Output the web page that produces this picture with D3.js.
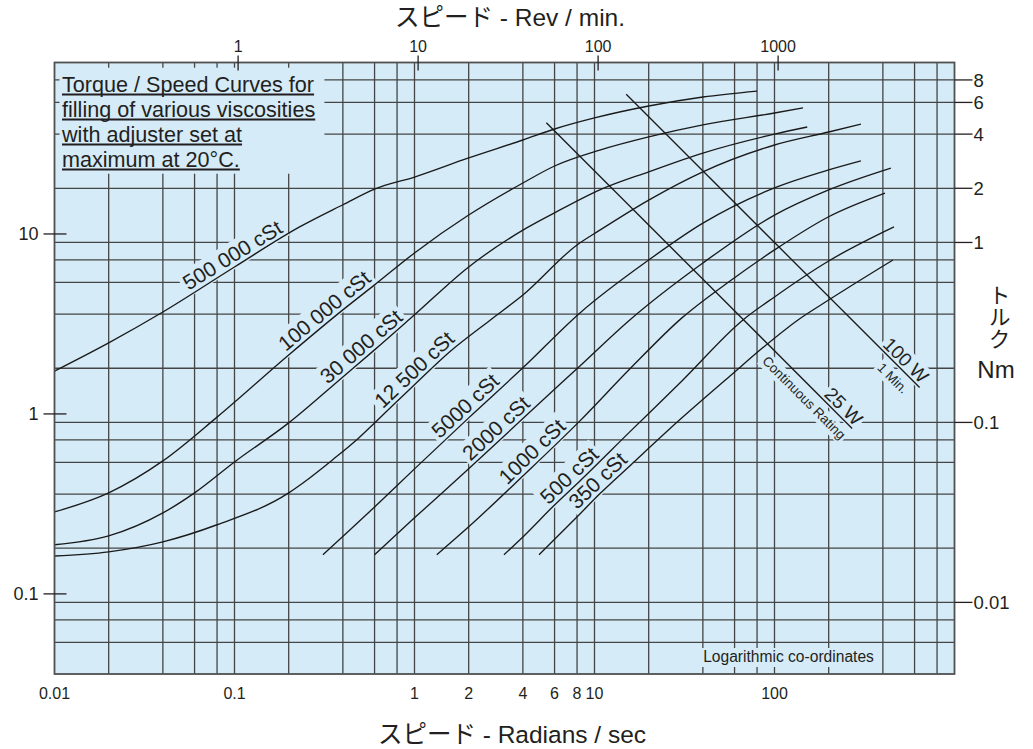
<!DOCTYPE html>
<html lang="ja">
<head>
<meta charset="utf-8">
<title>Torque / Speed Curves</title>
<script src="https://d3js.org/d3.v7.min.js"></script>
<style>
  body { margin: 0; background: #fff; }
  svg text { font-family: "Liberation Sans", Arial, "Noto Sans CJK JP", sans-serif; fill: #231f20; }
</style>
</head>
<body>
<script>
// consts
const w = 1033, h = 749;
const plot = {left: 54.5, right: 954.5, top: 62.5, bottom: 674};
const paper = "#d5ebf8";
const ink = "#231f20";
const leftPerNm = 8.97;   // left scale unit vs Nm

// tick labels
const radTicks = [0.01, 0.1, 1, 2, 4, 6, 8, 10, 100];
const rpmTicks = [1, 10, 100, 1000];
const leftTicks = [10, 1, 0.1];
const nmTicks = [8, 6, 4, 2, 1, 0.1, 0.01];

// grid
const gridRad = [0.02, 0.04, 0.06, 0.08, 0.1, 0.2, 0.4, 0.6, 0.8, 1, 2, 4, 6, 8, 10,
                 20, 40, 60, 80, 100, 200, 400, 600, 800];
const gridNm = [8, 6, 4, 2, 1, 0.8, 0.6, 0.4, 0.2, 0.1, 0.08, 0.06, 0.04, 0.02, 0.01, 0.008, 0.006];

// curves: [rad/s, Nm]
const cst500000 = [[0.01,0.193],[0.02,0.277],[0.04,0.411],[0.1,0.731],[0.23,1.22],[0.4,1.62],[0.6,1.98],
                   [1,2.31],[2,2.95],[4,3.71],[6,4.27],[10,4.92],[20,5.73],[40,6.43],[80,6.94]];
const cst100000 = [[0.01,0.0318],[0.02,0.0406],[0.04,0.0611],[0.08,0.107],[0.2,0.237],[0.4,0.422],[0.6,0.581],
                   [1,0.874],[2,1.42],[4,2.14],[6,2.66],[10.7,3.26],[20,3.86],[40,4.5],[100,5.24],[144,5.59]];
const cst30000 = [[0.01,0.0209],[0.02,0.0234],[0.04,0.0314],[0.06,0.0406],[0.1,0.0603],[0.2,0.0994],[0.4,0.179],
                  [0.6,0.253],[1,0.396],[2,0.731],[4,1.17],[6,1.46],[10.7,1.96],[20,2.47],[40,3.14],[100,4.0],[152,4.38]];
const cst12500 = [[0.01,0.0181],[0.02,0.0191],[0.04,0.0217],[0.08,0.027],[0.2,0.0406],[0.24,0.0461],[0.35,0.0619],
                  [0.49,0.082],[0.6,0.0994],[1,0.162],[1.57,0.247],[2.63,0.37],[4,0.51],[8,0.969],[10.7,1.17],
                  [20,1.72],[40,2.47],[100,3.48],[200,4.11],[302,4.55]];
const cst5000 = [[0.31,0.0184],[0.6,0.0339],[1,0.0552],[2,0.106],[4,0.201],[8.3,0.406],[20,0.799],[40,1.28],
                 [100,2.01],[200,2.53],[302,2.84]];
const cst2000 = [[0.6,0.0184],[1,0.0295],[2,0.0552],[4,0.105],[8.3,0.206],[15.7,0.371],[40,0.769],[100,1.42],
                 [200,1.96],[443,2.59]];
const cst1000 = [[1.33,0.0184],[2,0.0263],[4,0.0504],[8.3,0.102],[15.7,0.198],[30.6,0.381],[56.6,0.611],
                 [100,0.909],[200,1.39],[411,1.88]];
const cst500 = [[3.14,0.0184],[4,0.0231],[6,0.0348],[8.3,0.0473],[15.7,0.0886],[30.6,0.17],[66.8,0.371],
                [100,0.498],[200,0.789],[461,1.22]];
const cst350 = [[4.92,0.0184],[8.3,0.031],[10.7,0.0401],[15.7,0.0573],[30.6,0.106],[56.6,0.181],[88.5,0.266],
                [135,0.371],[200,0.479],[455,0.799]];

const curveNames = ["500 000 cSt", "100 000 cSt", "30 000 cSt", "12 500 cSt", "5000 cSt",
                    "2000 cSt", "1000 cSt", "500 cSt", "350 cSt"];
const curveLabelAt = [0.105, 0.346, 0.555, 1.10, 2.11, 3.13, 4.97, 8, 11.5];   // rad/s

// power lines (T = P / speed)
const powerWatts = [100, 25];
const powerFrom = [15, 5.4];
const powerTo = [640, 270];
const powerTop = ["100 W", "25 W"];
const powerBottom = ["1 Min.", "Continuous Rating"];
const powerTopAt = [492, 222];
const powerBottomAt = [508, 163];

const noteLines = ["Torque / Speed Curves for", "filling of various viscosities",
                   "with adjuster set at", "maximum at 20°C."];

// scales
const x = d3.scaleLog().domain([0.01, 1000]).range([plot.left, plot.right]);
const y = d3.scaleLog().domain([0.004, 10]).range([plot.bottom, plot.top]);
const yLeft = d3.scaleLog().domain([0.004 * leftPerNm, 10 * leftPerNm]).range([plot.bottom, plot.top]);
const rpm = v => v * 2 * Math.PI / 60;

const svg = d3.select("body").append("svg").attr("width", w).attr("height", h);

// plot background
svg.append("rect")
   .attr("x", plot.left).attr("y", plot.top)
   .attr("width", plot.right - plot.left).attr("height", plot.bottom - plot.top)
   .attr("fill", paper);

// grid
const grid = svg.append("g").attr("stroke", "#454545").attr("stroke-width", 1.3);
grid.selectAll("line.gx").data(gridRad).enter().append("line")
    .attr("x1", d => x(d)).attr("x2", d => x(d))
    .attr("y1", plot.top).attr("y2", plot.bottom);
grid.selectAll("line.gy").data(gridNm).enter().append("line")
    .attr("y1", d => y(d)).attr("y2", d => y(d))
    .attr("x1", plot.left).attr("x2", plot.right);

const bgLayer = svg.append("g");
const lineLayer = svg.append("g");
const textLayer = svg.append("g");

// interpolate torque along a curve in log space
function torqueAt(pts, r) {
  const lr = Math.log10(r);
  for (let i = 0; i < pts.length - 1; i++) {
    const a = pts[i], b = pts[i + 1];
    if (r >= a[0] && r <= b[0]) {
      const t = (lr - Math.log10(a[0])) / (Math.log10(b[0]) - Math.log10(a[0]));
      return Math.pow(10, Math.log10(a[1]) + t * (Math.log10(b[1]) - Math.log10(a[1])));
    }
  }
  return pts[pts.length - 1][1];
}

// a rotated label, with a patch of paper behind it
function label(px, py, angle, txt, size, dy, pad) {
  const tr = "translate(" + px + "," + py + ") rotate(" + angle + ")";
  const t = textLayer.append("g").attr("transform", tr)
    .append("text").attr("text-anchor", "middle").attr("y", dy)
    .style("font-size", size + "px").text(txt);
  const bb = t.node().getBBox();
  bgLayer.append("rect").attr("transform", tr)
    .attr("x", bb.x - pad).attr("y", bb.y + size * 0.1 - pad)
    .attr("width", bb.width + 2 * pad).attr("height", bb.height - size * 0.15 + 2 * pad)
    .attr("fill", paper);
}

// viscosity curves
const curves = [cst500000, cst100000, cst30000, cst12500, cst5000, cst2000, cst1000, cst500, cst350];
const line = d3.line().x(d => x(d[0])).y(d => y(d[1])).curve(d3.curveMonotoneX);

lineLayer.selectAll("path.curve").data(curves).enter().append("path")
   .attr("class", "curve")
   .attr("d", line)
   .attr("fill", "none").attr("stroke", "#1a1a1a").attr("stroke-width", 1.35);

curves.forEach((pts, i) => {
  const r = curveLabelAt[i];
  const x1 = x(r / 1.2), y1 = y(torqueAt(pts, r / 1.2));
  const x2 = x(r * 1.2), y2 = y(torqueAt(pts, r * 1.2));
  const ang = Math.atan2(y2 - y1, x2 - x1) * 180 / Math.PI;
  label(x(r), y(torqueAt(pts, r)), ang, curveNames[i], 21, -4, 3);
});

// power lines
powerWatts.forEach((p, i) => {
  const pts = [[powerFrom[i], p / powerFrom[i]], [powerTo[i], p / powerTo[i]]];
  lineLayer.append("path")
     .attr("d", d3.line().x(d => x(d[0])).y(d => y(d[1]))(pts))
     .attr("fill", "none").attr("stroke", "#1a1a1a").attr("stroke-width", 1.35);
  const ang = Math.atan2(y(p / powerTo[i]) - y(p / powerFrom[i]), x(powerTo[i]) - x(powerFrom[i])) * 180 / Math.PI;
  const rt = powerTopAt[i], rb = powerBottomAt[i];
  label(x(rt), y(p / rt), ang, powerTop[i], 19, -3, 2);
  label(x(rb), y(p / rb), ang, powerBottom[i], 13.5, 17, 2);
});

// note box
const note = textLayer.append("g");
noteLines.forEach((s, i) => {
  const t = note.append("text").attr("x", 62).attr("y", 91.7 + i * 25)
     .style("font-size", "21.6px").text(s);
  const len = t.node().getComputedTextLength();
  note.append("line").attr("x1", 62).attr("x2", 62 + len)
     .attr("y1", 94.5 + i * 25).attr("y2", 94.5 + i * 25)
     .attr("stroke", ink).attr("stroke-width", 1.9);
});
const nb = note.node().getBBox();
bgLayer.append("rect").attr("x", plot.left + 5).attr("y", nb.y - 4)
   .attr("width", nb.x + nb.width + 9 - plot.left - 5).attr("height", nb.height + 6)
   .attr("fill", paper);

// log note
const lg = textLayer.append("text").attr("x", plot.right - 166).attr("y", plot.bottom - 12)
   .attr("text-anchor", "middle").style("font-size", "15.6px").text("Logarithmic co-ordinates");
const lb = lg.node().getBBox();
bgLayer.append("rect").attr("x", lb.x - 4).attr("y", lb.y)
   .attr("width", lb.width + 8).attr("height", lb.height + 2).attr("fill", paper);

// frame
svg.append("rect")
   .attr("x", plot.left).attr("y", plot.top)
   .attr("width", plot.right - plot.left).attr("height", plot.bottom - plot.top)
   .attr("fill", "none").attr("stroke", "#505050").attr("stroke-width", 1.8);

// bottom axis labels (rad/s)
svg.selectAll("text.bx").data(radTicks).enter().append("text")
   .attr("x", d => x(d)).attr("y", 699).attr("text-anchor", "middle")
   .style("font-size", "16px").text(d => d);

// top axis (rev/min)
svg.selectAll("line.tx").data(rpmTicks).enter().append("line")
   .attr("x1", d => x(rpm(d))).attr("x2", d => x(rpm(d)))
   .attr("y1", plot.top - 7).attr("y2", plot.top + 8)
   .attr("stroke", ink).attr("stroke-width", 1.3);
svg.selectAll("text.tx").data(rpmTicks).enter().append("text")
   .attr("x", d => x(rpm(d))).attr("y", 51.5).attr("text-anchor", "middle")
   .style("font-size", "16px").text(d => d);

// left axis
svg.selectAll("line.lt").data(leftTicks).enter().append("line")
   .attr("x1", plot.left - 11).attr("x2", plot.left + 12)
   .attr("y1", d => yLeft(d)).attr("y2", d => yLeft(d))
   .attr("stroke", ink).attr("stroke-width", 1.3);
svg.selectAll("text.lt").data(leftTicks).enter().append("text")
   .attr("x", 38.5).attr("y", d => yLeft(d)).attr("dy", "0.36em").attr("text-anchor", "end")
   .style("font-size", "18px").text(d => d);

// right axis (Nm)
svg.selectAll("line.rt").data(nmTicks).enter().append("line")
   .attr("x1", plot.right).attr("x2", plot.right + 18)
   .attr("y1", d => y(d)).attr("y2", d => y(d))
   .attr("stroke", ink).attr("stroke-width", 1.3);
svg.selectAll("text.rt").data(nmTicks).enter().append("text")
   .attr("x", plot.right + 19).attr("y", d => y(d)).attr("dy", "0.36em")
   .style("font-size", "18.5px").text(d => d);

// titles
svg.append("text").attr("x", 510).attr("y", 26).attr("text-anchor", "middle")
   .style("font-size", "24.5px").text("スピード - Rev / min.");
svg.append("text").attr("x", 512).attr("y", 743).attr("text-anchor", "middle")
   .style("font-size", "24.5px").text("スピード - Radians / sec");
svg.append("text").attr("x", 997).attr("y", 284)
   .style("writing-mode", "vertical-rl").style("font-size", "22px").text("トルク");
svg.append("text").attr("x", 996).attr("y", 378).attr("text-anchor", "middle")
   .style("font-size", "24px").text("Nm");
</script>
</body>
</html>
